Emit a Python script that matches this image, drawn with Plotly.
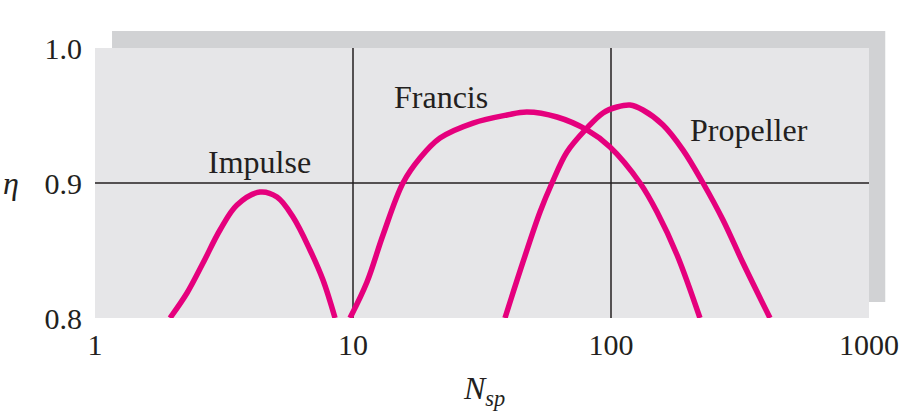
import plotly.graph_objects as go

# ---- data ----
impulse_x = [1.953, 2.273, 2.622, 3.051, 3.551, 4.360, 5.075, 5.855, 6.813, 7.651, 8.518]
impulse_y = [0.800, 0.8185, 0.8407, 0.8652, 0.8837, 0.8933, 0.8896, 0.8748, 0.8504, 0.8281, 0.800]

francis_x = [9.736, 11.33, 13.07, 15.62, 18.18, 21.74, 29.18, 39.54, 47.25, 61.75, 80.7, 99.1,
             129.6, 150.8, 180.3, 221.2]
francis_y = [0.800, 0.8267, 0.8615, 0.900, 0.9185, 0.9333, 0.9444, 0.9504, 0.9526, 0.9489,
             0.9393, 0.9267, 0.900, 0.8785, 0.8467, 0.800]

propeller_x = [38.82, 45.60, 53.06, 59.06, 67.52, 80.7, 93.1, 105.5, 118.5, 133.0, 159.1, 190.2,
               227.3, 271.7, 324.9, 413.3]
propeller_y = [0.800, 0.8415, 0.8785, 0.900, 0.923, 0.9407, 0.9519, 0.9563, 0.9578, 0.9541,
               0.943, 0.9244, 0.900, 0.8726, 0.8407, 0.800]

x_ticks = [1, 10, 100, 1000]
x_tick_labels = ["1", "10", "100", "1000"]
y_ticks = [0.8, 0.9, 1.0]
y_tick_labels = ["0.8", "0.9", "1.0"]
x_grid = [10, 100]
y_grid = [0.9]

curve_names = ["Impulse", "Francis", "Propeller"]

MAGENTA = "#E5007D"
TEXT = "#231F20"
FONT = "Liberation Serif"

fig = go.Figure()
for name, xs, ys in zip(curve_names,
                        [impulse_x, francis_x, propeller_x],
                        [impulse_y, francis_y, propeller_y]):
    fig.add_trace(go.Scatter(x=xs, y=ys, mode="lines", name=name,
                             line=dict(color=MAGENTA, width=5.5, shape="spline", smoothing=1.0),
                             showlegend=False, hoverinfo="skip"))

shapes = [
    # drop shadow
    dict(type="rect", xref="paper", yref="paper", x0=0.022, x1=1.021, y0=0.059, y1=1.063,
         fillcolor="#D1D2D4", line=dict(width=0), layer="below"),
    # plot panel
    dict(type="rect", xref="paper", yref="paper", x0=0, x1=1, y0=0, y1=1,
         fillcolor="#E6E6E8", line=dict(width=0), layer="below"),
]
for gx in x_grid:
    shapes.append(dict(type="line", xref="x", yref="paper", x0=gx, x1=gx, y0=0, y1=1,
                       line=dict(color=TEXT, width=1.5), layer="below"))
for gy in y_grid:
    shapes.append(dict(type="line", xref="paper", yref="y", x0=0, x1=1, y0=gy, y1=gy,
                       line=dict(color=TEXT, width=1.5), layer="below"))


def label(text, x, y):
    return dict(text=text, xref="paper", yref="paper", x=x, y=y, showarrow=False,
                xanchor="center", yanchor="middle",
                font=dict(family=FONT, size=32, color=TEXT))


annotations = [
    label("Impulse", 0.212, 0.578),
    label("Francis", 0.447, 0.819),
    label("Propeller", 0.845, 0.696),
    label("<i>η</i>", -0.108, 0.50),
    label("<i>N<sub>sp</sub></i>", 0.503, -0.270),
]

fig.update_layout(
    width=903, height=414,
    margin=dict(l=95, r=34, t=48, b=96),
    paper_bgcolor="white",
    plot_bgcolor="rgba(0,0,0,0)",
    shapes=shapes,
    annotations=annotations,
    xaxis=dict(type="log", range=[0, 3], tickvals=x_ticks, ticktext=x_tick_labels,
               showgrid=False, zeroline=False, showline=False, ticks="",
               ticklabelstandoff=6, automargin=False,
               tickfont=dict(family=FONT, size=30, color=TEXT)),
    yaxis=dict(range=[0.8, 1.0], tickvals=y_ticks, ticktext=y_tick_labels,
               showgrid=False, zeroline=False, showline=False, ticks="",
               ticklabelstandoff=12, automargin=False,
               tickfont=dict(family=FONT, size=30, color=TEXT)),
)

# remove the default page margin so the figure fills the window exactly
fig.write_html("out.html",
               config={"displayModeBar": False, "staticPlot": True},
               post_script="document.body.style.margin='0';document.body.style.overflow='hidden';")
